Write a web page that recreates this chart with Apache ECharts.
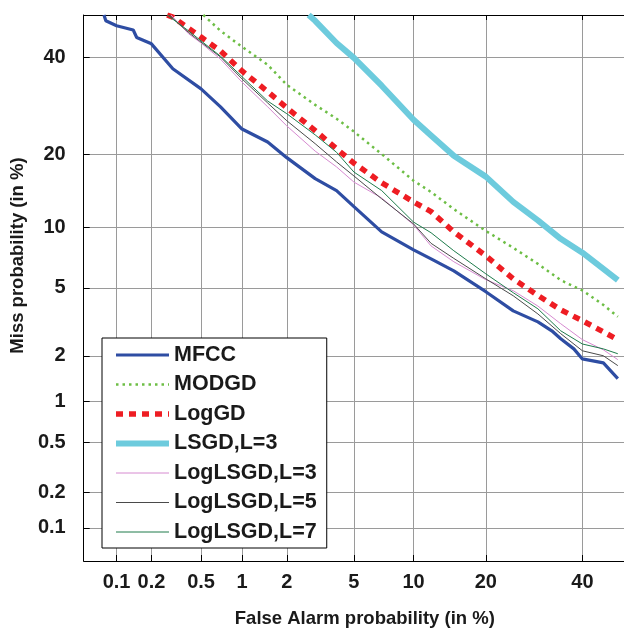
<!DOCTYPE html>
<html>
<head>
<meta charset="utf-8">
<script src="https://cdn.jsdelivr.net/npm/echarts@6/dist/echarts.min.js"></script>
<style>
html,body{margin:0;padding:0;background:#fff;}
#chart{width:624px;height:633px;}
</style>
</head>
<body>
<div id="chart"></div>
<script>
// ---- tick labels (percent) ----
const tickPercents = [0.1, 0.2, 0.5, 1, 2, 5, 10, 20, 40];
const tickLabels = ['0.1', '0.2', '0.5', '1', '2', '5', '10', '20', '40'];

// ---- series data: false alarm % and miss % ----
const seriesNames = ['MFCC', 'MODGD', 'LogGD', 'LSGD,L=3', 'LogLSGD,L=3', 'LogLSGD,L=5', 'LogLSGD,L=7'];

const mfccFA   = [0.077, 0.08, 0.1, 0.14, 0.15, 0.2, 0.3, 0.5, 0.7, 1, 1.5, 2, 3, 4, 5, 7, 10, 12, 15, 20, 25, 30, 33, 35, 38, 40, 45, 48.5];
const mfccMiss = [50, 48.6, 47.4, 46.4, 44.6, 43.1, 37.3, 32.8, 29.0, 24.6, 22.2, 19.5, 16.2, 14.5, 12.4, 9.56, 7.85, 7.08, 6.15, 4.77, 3.73, 3.22, 2.85, 2.55, 2.21, 1.91, 1.80, 1.42];

const modgdFA   = [0.52, 0.7, 1, 1.5, 2, 3, 4, 5, 7, 10, 12, 15, 20, 25, 30, 35, 40, 45, 48.5];
const modgdMiss = [50, 46.2, 42.4, 38.2, 33.7, 29.4, 26.6, 24.1, 20.1, 15.9, 14.3, 12.1, 9.66, 8.03, 6.68, 5.5, 4.85, 4.03, 3.45];

const loggdFA   = [0.27, 0.3, 0.5, 0.7, 1, 1.5, 2, 3, 4, 5, 7, 10, 12, 15, 20, 25, 30, 35, 40, 45, 48.5];
const loggdMiss = [50, 49.5, 44.7, 41.4, 36.8, 32.2, 28.8, 24.3, 21.0, 18.6, 15.6, 13.0, 11.8, 9.56, 7.34, 5.59, 4.55, 3.78, 3.27, 2.81, 2.52];

const lsgdFA   = [2.74, 3, 4, 5, 7, 10, 12, 15, 20, 25, 30, 35, 40, 45, 48.5];
const lsgdMiss = [50, 48.6, 43.3, 39.8, 33.5, 26.4, 23.4, 19.8, 16.5, 13.0, 10.8, 8.87, 7.6, 6.3, 5.5];

const loglsgd3FA   = [0.29, 0.4, 0.5, 0.7, 1, 1.5, 2, 3, 4, 5, 7, 10, 12, 15, 20, 25, 30, 35, 40, 45, 48.5];
const loglsgd3Miss = [50, 45.5, 43.3, 39.5, 34.3, 29.0, 25.2, 20.6, 18.0, 15.7, 13.5, 10.3, 8.2, 6.85, 5.53, 4.83, 3.97, 3.14, 2.52, 2.18, 1.89];

const loglsgd5FA   = [0.28, 0.4, 0.5, 0.7, 1, 1.5, 2, 3, 4, 5, 7, 10, 12, 15, 20, 25, 30, 35, 40, 45, 48.5];
const loglsgd5Miss = [50, 45.8, 43.5, 40.0, 35.0, 29.8, 26.2, 21.9, 18.8, 16.6, 13.4, 10.4, 8.44, 7.12, 5.59, 4.53, 3.58, 2.74, 2.15, 2.00, 1.73];

const loglsgd7FA   = [0.27, 0.4, 0.5, 0.7, 1, 1.5, 2, 3, 4, 5, 7, 10, 12, 15, 20, 25, 30, 35, 40, 45, 48.5];
const loglsgd7Miss = [50, 46.2, 43.8, 40.2, 35.5, 30.2, 27.6, 23.5, 20.4, 17.2, 14.5, 10.6, 9.47, 7.77, 5.94, 4.71, 3.83, 2.85, 2.37, 2.21, 2.06];

// ---- probit (normal deviate) transform used by the DET axes ----
function probit(p) {
  const a=[-3.969683028665376e+01,2.209460984245205e+02,-2.759285104469687e+02,1.383577518672690e+02,-3.066479806614716e+01,2.506628277459239e+00];
  const b=[-5.447609879822406e+01,1.615858368580409e+02,-1.556989798598866e+02,6.680131188771972e+01,-1.328068155288572e+01];
  const c=[-7.784894002430293e-03,-3.223964580411365e-01,-2.400758277161838e+00,-2.549732539343734e+00,4.374664141464968e+00,2.938163982698783e+00];
  const d=[7.784695709041462e-03,3.224671290700398e-01,2.445134137142996e+00,3.754408661907416e+00];
  const plow=0.02425, phigh=1-plow;
  let q, r;
  if (p < plow) {
    q = Math.sqrt(-2*Math.log(p));
    return (((((c[0]*q+c[1])*q+c[2])*q+c[3])*q+c[4])*q+c[5])/((((d[0]*q+d[1])*q+d[2])*q+d[3])*q+1);
  }
  if (p > phigh) {
    q = Math.sqrt(-2*Math.log(1-p));
    return -(((((c[0]*q+c[1])*q+c[2])*q+c[3])*q+c[4])*q+c[5])/((((d[0]*q+d[1])*q+d[2])*q+d[3])*q+1);
  }
  q = p-0.5; r = q*q;
  return (((((a[0]*r+a[1])*r+a[2])*r+a[3])*r+a[4])*r+a[5])*q/(((((b[0]*r+b[1])*r+b[2])*r+b[3])*r+b[4])*r+1);
}
const P = v => probit(v/100);
const tickVals = tickPercents.map(P);
function fmt(v) {
  let best = 0, bd = 1e9;
  tickVals.forEach((t, i) => { const dd = Math.abs(t - v); if (dd < bd) { bd = dd; best = i; } });
  return tickLabels[best];
}
function pairs(fa, miss) { return fa.map((f, i) => [P(f), P(miss[i])]); }

const FONT = "'Liberation Sans', Arial, Helvetica, sans-serif";
const axMin = P(0.05), axMax = 0;

const chart = echarts.init(document.getElementById('chart'), null, {renderer: 'canvas'});

const styles = [
  {color: '#2E4DA3', width: 3.2, type: 'solid'},
  {color: '#6DBE45', width: 2.5, type: [2.5, 4]},
  {color: '#EE1D23', width: 5.5, type: [7, 6]},
  {color: '#6DCBDD', width: 6, type: 'solid'},
  {color: '#D68AD0', width: 1, type: 'solid'},
  {color: '#4A4A4A', width: 1, type: 'solid'},
  {color: '#1E7B4B', width: 1, type: 'solid'}
];
const datas = [
  pairs(mfccFA, mfccMiss),
  pairs(modgdFA, modgdMiss),
  pairs(loggdFA, loggdMiss),
  pairs(lsgdFA, lsgdMiss),
  pairs(loglsgd3FA, loglsgd3Miss),
  pairs(loglsgd5FA, loglsgd5Miss),
  pairs(loglsgd7FA, loglsgd7Miss)
];

const series = seriesNames.map((n, i) => ({
  name: n,
  type: 'line',
  data: datas[i],
  showSymbol: false,
  symbol: 'none',
  color: styles[i].color,
  lineStyle: {color: styles[i].color, width: styles[i].width, type: styles[i].type},
  clip: true,
  z: 2
}));

const tickLabelStyle = {fontSize: 20, fontWeight: 'bold', color: '#1a1a1a', fontFamily: FONT};

chart.setOption({
  animation: false,
  backgroundColor: '#fff',
  grid: {left: 82, top: 15, right: -6, bottom: 70, containLabel: false},
  xAxis: [{
    type: 'value', position: 'bottom', min: axMin, max: axMax,
    axisLine: {show: true, onZero: false, lineStyle: {color: '#000', width: 1}},
    axisTick: {show: true, inside: true, length: 6, customValues: tickVals, lineStyle: {color: '#000'}},
    axisLabel: {show: true, customValues: tickVals, formatter: fmt, margin: 11, ...tickLabelStyle},
    splitLine: {show: true, lineStyle: {color: '#9a9a9a', width: 1}},
    name: 'False Alarm probability (in %)', nameLocation: 'middle', nameGap: 48,
    nameTextStyle: {fontSize: 18.5, fontWeight: 'bold', color: '#1a1a1a', fontFamily: FONT, padding: [0, 0, 0, 22]}
  }, {
    type: 'value', position: 'top', min: axMin, max: axMax,
    axisLine: {show: true, onZero: false, lineStyle: {color: '#000', width: 1}},
    axisTick: {show: true, inside: true, length: 5, customValues: tickVals, lineStyle: {color: '#000'}},
    axisLabel: {show: false},
    splitLine: {show: false}
  }],
  yAxis: [{
    type: 'value', position: 'left', min: axMin, max: axMax,
    axisLine: {show: true, onZero: false, lineStyle: {color: '#000', width: 1}},
    axisTick: {show: true, inside: true, length: 6, customValues: tickVals, lineStyle: {color: '#000'}},
    axisLabel: {show: true, customValues: tickVals, formatter: fmt, margin: 18, ...tickLabelStyle},
    splitLine: {show: true, lineStyle: {color: '#9a9a9a', width: 1}},
    name: 'Miss probability (in %)', nameLocation: 'middle', nameGap: 54,
    nameTextStyle: {fontSize: 18.5, fontWeight: 'bold', color: '#1a1a1a', fontFamily: FONT, padding: [0, 0, 0, 65]}
  }],
  legend: {
    orient: 'vertical', left: 102, top: 338,
    itemWidth: 53, itemHeight: 14, itemGap: 7.5,
    padding: [6, 10, 5, 11],
    borderColor: '#000', borderWidth: 1, backgroundColor: '#fff',
    textStyle: {fontSize: 21.5, fontWeight: 'bold', color: '#1a1a1a', fontFamily: FONT, lineHeight: 22},
    lineStyle: {width: 'inherit'},
    itemStyle: {opacity: 0, color: 'transparent', borderWidth: 0},
    data: seriesNames
  },
  series: series
});
</script>
</body>
</html>
